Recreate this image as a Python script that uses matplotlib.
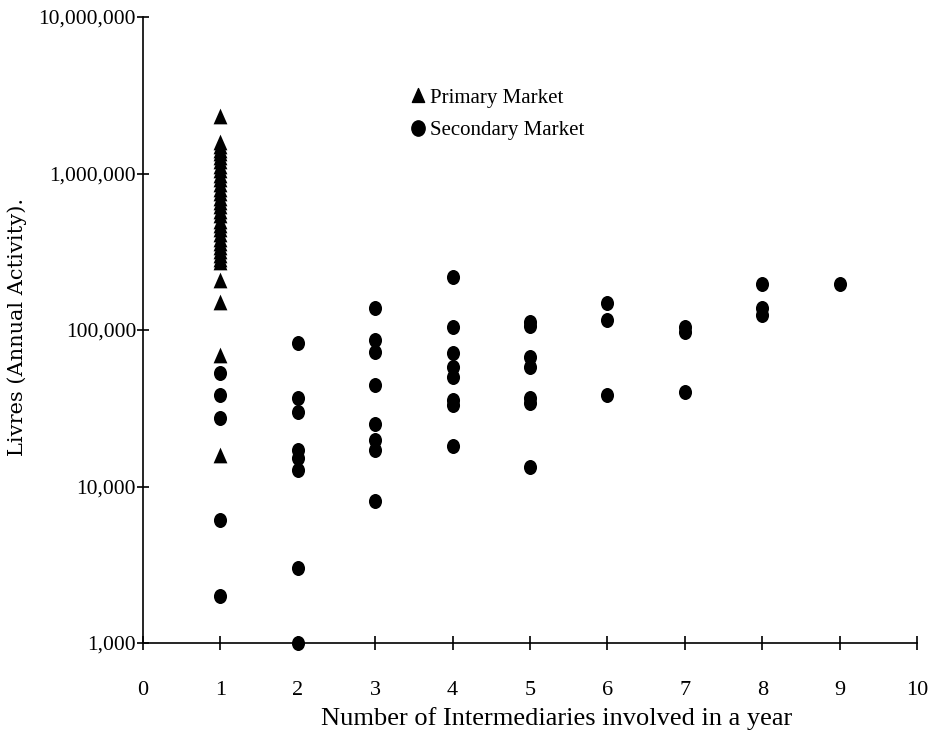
import matplotlib
matplotlib.use("Agg")
import matplotlib.pyplot as plt
from matplotlib.ticker import FixedLocator, FuncFormatter, NullLocator
from matplotlib.path import Path
from matplotlib.lines import Line2D
import numpy as np

# Primary market (triangles), all at 1 intermediary
primary_x = [1] * 34
primary_y = [2330000, 1600000, 1500000, 1420000, 1350000, 1280000, 1200000, 1120000,
             1050000, 980000, 920000, 860000, 800000, 750000, 700000, 660000, 620000,
             580000, 540000, 500000, 470000, 440000, 410000, 380000, 360000, 340000,
             320000, 300000, 285000, 209000, 151000, 69000, 15900, 270000]

# Secondary market (circles)
secondary_x = [1, 1, 1, 1, 1,
               2, 2, 2, 2, 2, 2, 2, 2,
               3, 3, 3, 3, 3, 3, 3, 3,
               4, 4, 4, 4, 4, 4, 4, 4,
               5, 5, 5, 5, 5, 5, 5,
               6, 6, 6,
               7, 7, 7,
               8, 8, 8,
               9]
secondary_y = [53000, 38500, 27400, 6100, 2000,
               82600, 36700, 29900, 17100, 15200, 12700, 3000, 1000,
               138000, 86000, 72000, 44600, 25000, 19800, 17100, 8100,
               218000, 104000, 71000, 58000, 50000, 35500, 33000, 18200,
               113000, 106000, 67000, 58000, 37000, 34000, 13300,
               149000, 116000, 38500,
               104000, 97000, 40000,
               197000, 138000, 125000,
               197000]

x_ticks = [0, 1, 2, 3, 4, 5, 6, 7, 8, 9, 10]
y_ticks = [1000, 10000, 100000, 1000000, 10000000]

x_label = "Number of Intermediaries involved in a year"
y_label = "Livres (Annual Activity)."
legend_labels = ["Primary Market", "Secondary Market"]

plt.rcParams['font.family'] = ['Liberation Serif', 'DejaVu Serif']

fig = plt.figure(figsize=(9.31, 7.38), dpi=100)
ax = fig.add_axes([143 / 931, (738 - 643) / 738, (917 - 143) / 931, (643 - 17) / 738])

# slightly tall ellipse marker for circles, slightly narrow triangle
circ = Path.unit_circle()
ell = Path(circ.vertices * np.array([0.87, 1.0]), circ.codes)
tri = Path([(0, 1), (-0.88, -1), (0.88, -1), (0, 1)],
           [Path.MOVETO, Path.LINETO, Path.LINETO, Path.CLOSEPOLY])

ax.scatter(primary_x, primary_y, marker=tri, s=128, color='black', linewidths=0,
           clip_on=False, zorder=3)
ax.scatter(secondary_x, secondary_y, marker=ell, s=117, color='black', linewidths=0,
           clip_on=False, zorder=3)

ax.set_yscale('log')
ax.set_xlim(0, 10)
ax.set_ylim(1000, 10000000)
ax.xaxis.set_major_locator(FixedLocator(x_ticks))
ax.yaxis.set_major_locator(FixedLocator(y_ticks))
ax.yaxis.set_minor_locator(NullLocator())
ax.xaxis.set_minor_locator(NullLocator())
ax.yaxis.set_major_formatter(FuncFormatter(lambda v, p: f"{int(round(v)):,}"))
ax.xaxis.set_major_formatter(FuncFormatter(lambda v, p: f"{int(v)}"))

for s in ['top', 'right']:
    ax.spines[s].set_visible(False)
for s in ['left', 'bottom']:
    ax.spines[s].set_linewidth(1.2)
    ax.spines[s].set_color('black')

ax.tick_params(axis='y', direction='inout', length=9, width=1.2, labelsize=15.5, pad=0.5)
ax.tick_params(axis='x', direction='inout', length=10, width=1.2, labelsize=16, pad=22.5)

ax.set_xlabel(x_label, fontsize=19)
ax.xaxis.set_label_coords(0.534, -0.102)
ylab = ax.set_ylabel(y_label)
ylab.set_fontfamily(['DejaVu Serif'])
ylab.set_fontsize(15)
ylab.set_va('center')
ax.yaxis.set_label_coords(-0.163, 0.505)

handles = [Line2D([], [], marker=tri, color='black', linestyle='none', markersize=10),
           Line2D([], [], marker=ell, color='black', linestyle='none', markersize=11)]
ax.legend(handles, legend_labels, loc='upper left',
          bbox_to_anchor=(405 / 931, 1 - 88 / 738), bbox_transform=fig.transFigure,
          frameon=False, fontsize=15, handletextpad=0.0, labelspacing=0.62,
          handlelength=1.2, borderaxespad=0, borderpad=0)

fig.savefig("out.png", dpi=100, facecolor='white')
